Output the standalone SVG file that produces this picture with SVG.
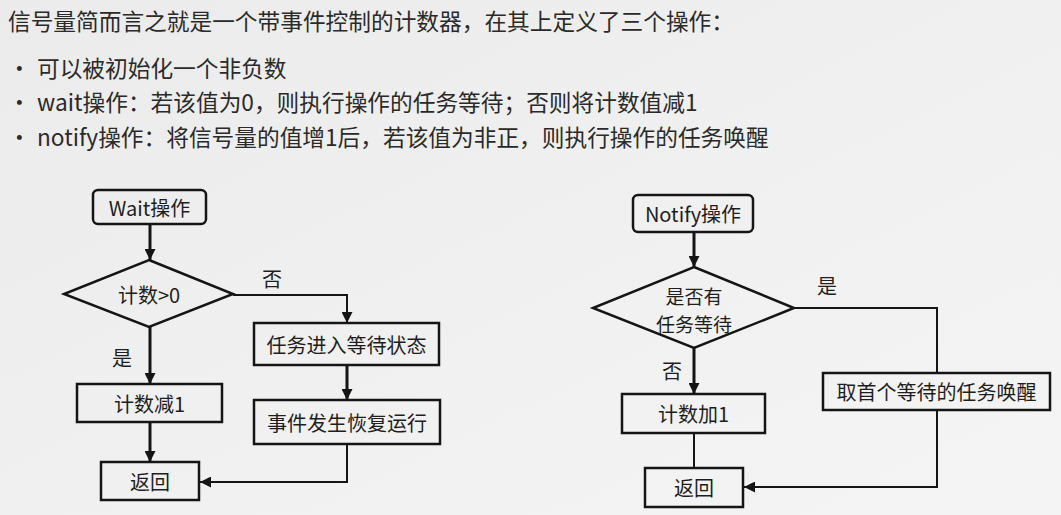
<svg xmlns="http://www.w3.org/2000/svg" width="1061" height="515" viewBox="0 0 1061 515">
<defs>
<linearGradient id="bg" x1="0" y1="0" x2="1" y2="1">
<stop offset="0" stop-color="#ebebeb"/>
<stop offset="0.6" stop-color="#f1f1f1"/>
<stop offset="1" stop-color="#f4f4f4"/>
</linearGradient>
<marker id="arr" viewBox="0 0 10 10" refX="10" refY="5" markerWidth="11" markerHeight="11" markerUnits="userSpaceOnUse" orient="auto">
<path d="M0,0 L10,5 L0,10 z" fill="#151515"/>
</marker>
<style>
.hd{font-family:"Noto Sans CJK SC","Noto Sans",sans-serif;font-size:22.7px;fill:#2a2a2a;dominant-baseline:central}
.t{font-family:"Noto Sans CJK SC","Noto Sans",sans-serif;font-size:20px;fill:#1e1e1e;text-anchor:middle;dominant-baseline:central}
.t2{font-size:19px}
.box{fill:none;stroke:#151515;stroke-width:2.5}
.dia{fill:none;stroke:#151515;stroke-width:2.5;stroke-linejoin:miter}
.c{fill:none;stroke:#151515}
.thick{stroke-width:3}
.thin{stroke-width:2}
</style>
</defs>
<rect width="1061" height="515" fill="url(#bg)"/>

<g id="header">
<text class="hd" x="8" y="20">信号量简而言之就是一个带事件控制的计数器，在其上定义了三个操作：</text>
<text class="hd" x="8" y="67">•</text>
<text class="hd" x="37" y="67">可以被初始化一个非负数</text>
<text class="hd" x="8" y="101">•</text>
<text class="hd" x="37" y="101">wait操作：若该值为0，则执行操作的任务等待；否则将计数值减1</text>
<text class="hd" x="8" y="136">•</text>
<text class="hd" x="37" y="136">notify操作：将信号量的值增1后，若该值为非正，则执行操作的任务唤醒</text>
</g>

<g id="connectors">
<path class="c thick" d="M150,224 V260" marker-end="url(#arr)"/>
<path class="c thin" d="M233,295 H347 V323" marker-end="url(#arr)"/>
<path class="c thick" d="M347,365 V400" marker-end="url(#arr)"/>
<path class="c thin" d="M347,444 V482 H200" marker-end="url(#arr)"/>
<path class="c thick" d="M150,327 V384" marker-end="url(#arr)"/>
<path class="c thick" d="M150,422 V462" marker-end="url(#arr)"/>
<text class="t" x="272" y="278">否</text>
<text class="t" x="122" y="357">是</text>

<path class="c thick" d="M694,232 V267" marker-end="url(#arr)"/>
<path class="c thin" d="M793,308 H937 V373"/>
<path class="c thin" d="M937,410 V487 H744" marker-end="url(#arr)"/>
<path class="c thick" d="M694,348 V394" marker-end="url(#arr)"/>
<path class="c thin" d="M694,433 V468"/>
<text class="t" x="827" y="285">是</text>
<text class="t" x="672" y="370">否</text>
</g>

<g id="wait-start">
<rect class="box" x="93" y="190" width="113" height="34" rx="5"/>
<text class="t" x="149.5" y="207">Wait操作</text>
</g>
<g id="wait-decision">
<polygon class="dia" points="149,260 233,294 149,327 64,294"/>
<text class="t" x="149" y="294">计数&gt;0</text>
</g>
<g id="wait-enter">
<rect class="box" x="254" y="323" width="185" height="42"/>
<text class="t" x="346.5" y="344">任务进入等待状态</text>
</g>
<g id="wait-resume">
<rect class="box" x="254" y="400" width="186" height="44"/>
<text class="t" x="347" y="422">事件发生恢复运行</text>
</g>
<g id="wait-dec">
<rect class="box" x="77" y="384" width="145" height="38"/>
<text class="t" x="149.5" y="403">计数减1</text>
</g>
<g id="wait-return">
<rect class="box" x="101" y="462" width="98" height="38"/>
<text class="t" x="150" y="481">返回</text>
</g>

<g id="notify-start">
<rect class="box" x="633" y="195" width="120" height="37" rx="5"/>
<text class="t" x="693" y="213.5">Notify操作</text>
</g>
<g id="notify-decision">
<polygon class="dia" points="694,267 794,308 694,348 593,308"/>
<text class="t t2" x="694" y="295">是否有</text>
<text class="t t2" x="694" y="323">任务等待</text>
</g>
<g id="notify-wake">
<rect class="box" x="823" y="373" width="227" height="37"/>
<text class="t" x="936.5" y="391.5">取首个等待的任务唤醒</text>
</g>
<g id="notify-inc">
<rect class="box" x="622" y="394" width="143" height="39"/>
<text class="t" x="693.5" y="413.5">计数加1</text>
</g>
<g id="notify-return">
<rect class="box" x="645" y="468" width="98" height="39"/>
<text class="t" x="694" y="487.5">返回</text>
</g>
</svg>
